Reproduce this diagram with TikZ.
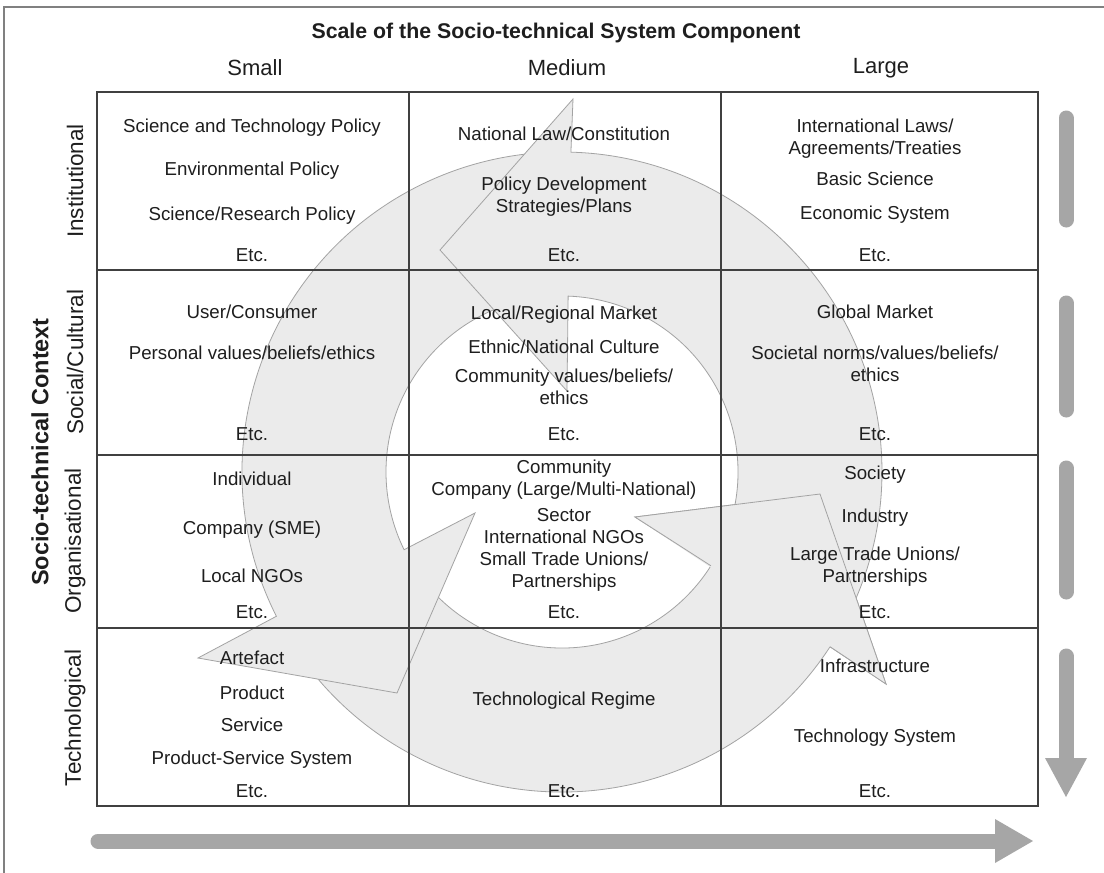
\documentclass[tikz,border=0pt]{standalone}
\usepackage{fontspec}
\setmainfont{Liberation Sans}
\definecolor{ringfill}{HTML}{EBEBEB}
\definecolor{ringline}{HTML}{A3A3A3}
\definecolor{gridcol}{HTML}{404040}
\definecolor{barcol}{HTML}{A6A6A6}
\definecolor{framecol}{HTML}{808080}
\definecolor{txtcol}{HTML}{1E1E1E}
\begin{document}
\begin{tikzpicture}[x=1pt,y=1pt,
  t/.style={font=\fontsize{18.7}{22}\selectfont, inner sep=0pt, anchor=base, text=txtcol},
  hdr/.style={font=\fontsize{22}{26}\selectfont, inner sep=0pt, text=txtcol},
  side/.style={font=\fontsize{22.5}{26}\selectfont, inner sep=0pt, rotate=90, text=txtcol},
  ring/.style={fill=ringfill, draw=ringline, line width=0.8pt, line join=miter},
  grid/.style={draw=gridcol, line width=1.4pt},
  bar/.style={draw=barcol, line width=15pt, line cap=round}]
\useasboundingbox (0,0) rectangle (1104,-873);
\fill[white] (0,0) rectangle (1104,-873);
\draw[framecol, line width=2pt] (4,-873) -- (4,-7) -- (1104,-7);

% circular arrows (centre 562,-472; inner radius 176, outer radius 320)
\begin{scope}[shift={(562,-472)}]
  \coordinate (h1i) at (5,81);   \coordinate (h1a) at (-122,222);  \coordinate (h1o) at (11,373);
  \coordinate (h2i) at (-87,-41); \coordinate (h2a) at (-165,-221); \coordinate (h2o) at (-364,-186);
  \coordinate (h3i) at (73,-45);  \coordinate (h3a) at (258,-22);   \coordinate (h3o) at (324,-212);
  % bottom arrow (B), head 3
  \filldraw[ring] (208.5:176) arc[start angle=208.5, end angle=327.8, radius=176] -- (h3i) -- (h3a) -- (h3o) -- (326.9:320) arc[start angle=326.9, end angle=208.5, radius=320] -- cycle;
  % left arrow (L), head 2
  \filldraw[ring] (90:176) arc[start angle=90, end angle=206.2, radius=176] -- (h2i) -- (h2a) -- (h2o) -- (206.8:320) arc[start angle=206.8, end angle=90, radius=320] -- cycle;
  % right arrow (R), head 1
  \filldraw[ring] (-30:176) arc[start angle=-30, end angle=88, radius=176] -- (h1i) -- (h1a) -- (h1o) -- (88.4:320) arc[start angle=88.4, end angle=-30, radius=320] -- cycle;
  % head 3 on top of the start of R
  \fill[ringfill] (h3i) -- (h3a) -- (h3o) -- cycle;
  \draw[ringline, line width=0.8pt, line join=miter] (327.8:176) -- (h3i) -- (h3a) -- (h3o) -- (326.9:320);
\end{scope}

% grid
\draw[grid] (97,-92) rectangle (1038,-806);
\draw[grid] (97,-270) -- (1038,-270);
\draw[grid] (97,-455) -- (1038,-455);
\draw[grid] (97,-628) -- (1038,-628);
\draw[grid] (409,-92) -- (409,-806);
\draw[grid] (721,-92) -- (721,-806);

% headings
\node[font=\bfseries\fontsize{21.3}{25}\selectfont, inner sep=0pt, text=txtcol] (title) at (556,-33) {Scale of the Socio-technical System Component};
\node[hdr] (hsmall) at (255,-68) {Small};
\node[hdr] (hmed) at (567,-68) {Medium};
\node[hdr] (hlarge) at (881,-68) {Large};
\node[font=\bfseries\fontsize{23.5}{27}\selectfont, inner sep=0pt, rotate=90, text=txtcol] (ctx) at (40,-452) {Socio-technical Context};
\node[side] (linst) at (75,-181) {Institutional};
\node[side] (lsoc) at (75,-362) {Social/Cultural};
\node[side] (lorg) at (75,-541) {Organisational};
\node[side] (ltech) at (75,-718) {Technological};

% row 1
\node[t] (a1) at (252,-132) {Science and Technology Policy};
\node[t] (a2) at (252,-175) {Environmental Policy};
\node[t] (a3) at (252,-220) {Science/Research Policy};
\node[t] (a4) at (252,-261) {Etc.};
\node[t] (b1) at (564,-140) {National Law/Constitution};
\node[t] (b2) at (564,-190) {Policy Development};
\node[t] (b3) at (564,-212) {Strategies/Plans};
\node[t] (b4) at (564,-261) {Etc.};
\node[t] (c1) at (875,-132) {International Laws/};
\node[t] (c2) at (875,-154) {Agreements/Treaties};
\node[t] (c3) at (875,-185) {Basic Science};
\node[t] (c4) at (875,-219) {Economic System};
\node[t] (c5) at (875,-261) {Etc.};
% row 2
\node[t] (d1) at (252,-318) {User/Consumer};
\node[t] (d2) at (252,-359) {Personal values/beliefs/ethics};
\node[t] (d3) at (252,-440) {Etc.};
\node[t] (e1) at (564,-319) {Local/Regional Market};
\node[t] (e2) at (564,-353) {Ethnic/National Culture};
\node[t] (e3) at (564,-382) {Community values/beliefs/};
\node[t] (e4) at (564,-404) {ethics};
\node[t] (e5) at (564,-440) {Etc.};
\node[t] (f1) at (875,-318) {Global Market};
\node[t] (f2) at (875,-359) {Societal norms/values/beliefs/};
\node[t] (f3) at (875,-381) {ethics};
\node[t] (f4) at (875,-440) {Etc.};
% row 3
\node[t] (g1) at (252,-485) {Individual};
\node[t] (g2) at (252,-534) {Company (SME)};
\node[t] (g3) at (252,-582) {Local NGOs};
\node[t] (g4) at (252,-618) {Etc.};
\node[t] (h1) at (564,-473) {Community};
\node[t] (h2) at (564,-495) {Company (Large/Multi-National)};
\node[t] (h3) at (564,-521) {Sector};
\node[t] (h4) at (564,-543) {International NGOs};
\node[t] (h5) at (564,-565) {Small Trade Unions/};
\node[t] (h6) at (564,-587) {Partnerships};
\node[t] (h7) at (564,-618) {Etc.};
\node[t] (i1) at (875,-479) {Society};
\node[t] (i2) at (875,-522) {Industry};
\node[t] (i3) at (875,-560) {Large Trade Unions/};
\node[t] (i4) at (875,-582) {Partnerships};
\node[t] (i5) at (875,-618) {Etc.};
% row 4
\node[t] (j1) at (252,-664) {Artefact};
\node[t] (j2) at (252,-699) {Product};
\node[t] (j3) at (252,-731) {Service};
\node[t] (j4) at (252,-764) {Product-Service System};
\node[t] (j5) at (252,-797) {Etc.};
\node[t] (k1) at (564,-705) {Technological Regime};
\node[t] (k2) at (564,-797) {Etc.};
\node[t] (l1) at (875,-672) {Infrastructure};
\node[t] (l2) at (875,-742) {Technology System};
\node[t] (l3) at (875,-797) {Etc.};

% right bars
\draw[bar] (1066,-118) -- (1066,-220);
\draw[bar] (1066,-303) -- (1066,-410);
\draw[bar] (1066,-468) -- (1066,-592);
\draw[bar] (1066,-656) -- (1066,-765);
\fill[barcol] (1045,-758) -- (1087,-758) -- (1066,-797) -- cycle;
% bottom arrow
\draw[bar] (98,-841) -- (1000,-841);
\fill[barcol] (995,-819) -- (995,-863) -- (1033,-841) -- cycle;
\end{tikzpicture}
\end{document}
